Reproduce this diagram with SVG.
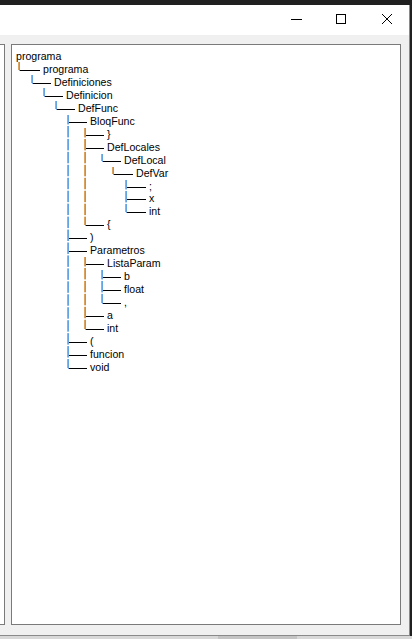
<svg xmlns="http://www.w3.org/2000/svg" width="412" height="639" viewBox="0 0 412 639">
<style>
.t{font-family:"Liberation Sans",Arial,sans-serif;font-size:10.6px;fill:#000}
.h{stroke:#000;stroke-width:1}
.vo{stroke:#dca35e;stroke-width:1;stroke-dasharray:11.45 1.5;stroke-dashoffset:2}
.vb{stroke:#62a4e4;stroke-width:1;stroke-dasharray:11.45 1.5;stroke-dashoffset:2}
.btn{stroke:#000;stroke-width:1;fill:none}
</style>
<g id="chrome">
<rect x="0" y="0" width="412" height="639" fill="#202020"/>
<rect x="0" y="636" width="412" height="3" fill="#d8d8d8"/>
<rect x="218" y="636" width="79" height="3" fill="#c4c4c4"/>
<rect x="0" y="5" width="410" height="631" fill="#f0f0f0"/>
<rect x="0" y="5" width="410" height="30" fill="#ffffff"/>
<line x1="409.5" y1="5" x2="409.5" y2="636" stroke="#8a8a8a"/>
<line x1="0" y1="635.5" x2="410" y2="635.5" stroke="#8a8a8a"/>
<line class="btn" x1="291" y1="19.5" x2="302" y2="19.5"/>
<rect class="btn" x="336.5" y="14.5" width="9" height="9"/>
<path class="btn" d="M382 14 L392 24 M392 14 L382 24"/>
<rect x="-5" y="44.5" width="9.5" height="580" fill="#fff" stroke="#7a7a7a"/>
<rect x="11.5" y="44.5" width="389" height="580" fill="#fff" stroke="#7a7a7a"/>
</g>
<g id="connectors">
<line class="vo" x1="18.5" y1="62" x2="18.5" y2="70"/><line class="vb" x1="19.5" y1="62" x2="19.5" y2="71"/>
<line class="vo" x1="31.5" y1="75" x2="31.5" y2="83"/><line class="vb" x1="32.5" y1="75" x2="32.5" y2="84"/>
<line class="vo" x1="43.5" y1="88" x2="43.5" y2="96"/><line class="vb" x1="44.5" y1="88" x2="44.5" y2="97"/>
<line class="vo" x1="55.5" y1="101" x2="55.5" y2="109"/><line class="vb" x1="56.5" y1="101" x2="56.5" y2="110"/>
<line class="vo" x1="67.5" y1="115" x2="67.5" y2="368"/><line class="vb" x1="68.5" y1="115" x2="68.5" y2="369"/>
<line class="vo" x1="84.5" y1="128" x2="84.5" y2="225"/><line class="vb" x1="85.5" y1="128" x2="85.5" y2="226"/>
<line class="vo" x1="101.5" y1="154" x2="101.5" y2="161"/><line class="vb" x1="102.5" y1="154" x2="102.5" y2="162"/>
<line class="vo" x1="112.5" y1="167" x2="112.5" y2="174"/><line class="vb" x1="113.5" y1="167" x2="113.5" y2="175"/>
<line class="vo" x1="125.5" y1="180" x2="125.5" y2="212"/><line class="vb" x1="126.5" y1="180" x2="126.5" y2="213"/>
<line class="vo" x1="84.5" y1="257" x2="84.5" y2="329"/><line class="vb" x1="85.5" y1="257" x2="85.5" y2="330"/>
<line class="vo" x1="101.5" y1="270" x2="101.5" y2="303"/><line class="vb" x1="102.5" y1="270" x2="102.5" y2="304"/>
<line class="h" x1="20" y1="70.5" x2="40" y2="70.5"/>
<line class="h" x1="33" y1="83.5" x2="51" y2="83.5"/>
<line class="h" x1="45" y1="96.5" x2="63" y2="96.5"/>
<line class="h" x1="57" y1="109.5" x2="75" y2="109.5"/>
<line class="h" x1="69" y1="122.5" x2="87" y2="122.5"/>
<line class="h" x1="86" y1="135.5" x2="104" y2="135.5"/>
<line class="h" x1="86" y1="148.5" x2="104" y2="148.5"/>
<line class="h" x1="103" y1="161.5" x2="121" y2="161.5"/>
<line class="h" x1="114" y1="174.5" x2="133" y2="174.5"/>
<line class="h" x1="127" y1="187.5" x2="146" y2="187.5"/>
<line class="h" x1="127" y1="199.5" x2="146" y2="199.5"/>
<line class="h" x1="127" y1="212.5" x2="146" y2="212.5"/>
<line class="h" x1="86" y1="225.5" x2="104" y2="225.5"/>
<line class="h" x1="69" y1="238.5" x2="87" y2="238.5"/>
<line class="h" x1="69" y1="251.5" x2="87" y2="251.5"/>
<line class="h" x1="86" y1="264.5" x2="104" y2="264.5"/>
<line class="h" x1="103" y1="277.5" x2="121" y2="277.5"/>
<line class="h" x1="103" y1="290.5" x2="121" y2="290.5"/>
<line class="h" x1="103" y1="303.5" x2="121" y2="303.5"/>
<line class="h" x1="86" y1="316.5" x2="104" y2="316.5"/>
<line class="h" x1="86" y1="329.5" x2="104" y2="329.5"/>
<line class="h" x1="69" y1="342.5" x2="87" y2="342.5"/>
<line class="h" x1="69" y1="355.5" x2="87" y2="355.5"/>
<line class="h" x1="69" y1="368.5" x2="87" y2="368.5"/>
</g>
<g id="n0"><text class="t" x="16" y="60">programa</text></g>
<g id="n1"><text class="t" x="43" y="73">programa</text></g>
<g id="n2"><text class="t" x="54" y="86">Definiciones</text></g>
<g id="n3"><text class="t" x="66" y="99">Definicion</text></g>
<g id="n4"><text class="t" x="78" y="112">DefFunc</text></g>
<g id="n5"><text class="t" x="90" y="125">BloqFunc</text></g>
<g id="n6"><text class="t" x="107" y="138">}</text></g>
<g id="n7"><text class="t" x="107" y="151">DefLocales</text></g>
<g id="n8"><text class="t" x="124" y="164">DefLocal</text></g>
<g id="n9"><text class="t" x="136" y="177">DefVar</text></g>
<g id="n10"><text class="t" x="149" y="190">;</text></g>
<g id="n11"><text class="t" x="149" y="202">x</text></g>
<g id="n12"><text class="t" x="149" y="215">int</text></g>
<g id="n13"><text class="t" x="107" y="228">{</text></g>
<g id="n14"><text class="t" x="90" y="241">)</text></g>
<g id="n15"><text class="t" x="90" y="254">Parametros</text></g>
<g id="n16"><text class="t" x="107" y="267">ListaParam</text></g>
<g id="n17"><text class="t" x="124" y="280">b</text></g>
<g id="n18"><text class="t" x="124" y="293">float</text></g>
<g id="n19"><text class="t" x="124" y="306">,</text></g>
<g id="n20"><text class="t" x="107" y="319">a</text></g>
<g id="n21"><text class="t" x="107" y="332">int</text></g>
<g id="n22"><text class="t" x="90" y="345">(</text></g>
<g id="n23"><text class="t" x="90" y="358">funcion</text></g>
<g id="n24"><text class="t" x="90" y="371">void</text></g>
</svg>
